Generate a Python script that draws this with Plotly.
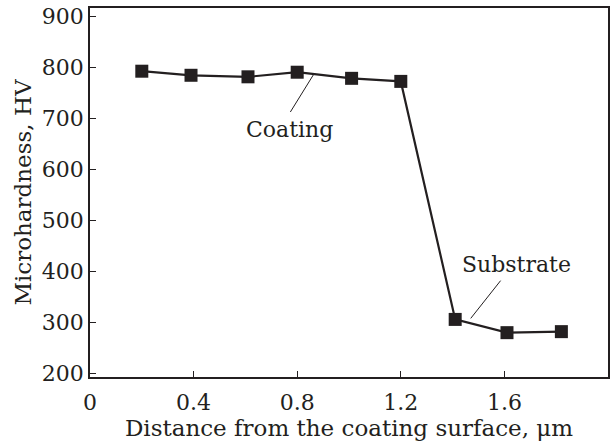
import plotly.graph_objects as go

distance = [0.2, 0.39, 0.61, 0.8, 1.01, 1.2, 1.41, 1.61, 1.82]
hardness = [793, 785, 782, 791, 779, 773, 306, 280, 282]
x_ticks = [0, 0.4, 0.8, 1.2, 1.6, 2.0]
x_tick_text = ["0", "0.4", "0.8", "1.2", "1.6", "2.0"]
y_ticks = [200, 300, 400, 500, 600, 700, 800, 900]

ink = "#231f20"
font_family = "DejaVu Serif"

fig = go.Figure()
fig.add_trace(go.Scatter(
    x=distance, y=hardness, mode="lines+markers",
    line=dict(color=ink, width=2.2),
    marker=dict(symbol="square", size=13, color=ink),
    showlegend=False,
))

# annotations with leader lines
fig.add_annotation(x=0.865, y=788, ax=0.77, ay=710, xref="x", yref="y", axref="x", ayref="y",
                   text="", showarrow=True, arrowhead=0, arrowwidth=1, arrowcolor=ink)
fig.add_annotation(x=0.77, y=708, text="Coating", showarrow=False, yanchor="top",
                   font=dict(family=font_family, size=22, color=ink))
fig.add_annotation(x=1.47, y=308, ax=1.59, ay=385, xref="x", yref="y", axref="x", ayref="y",
                   text="", showarrow=True, arrowhead=0, arrowwidth=1, arrowcolor=ink)
fig.add_annotation(x=1.645, y=386, text="Substrate", showarrow=False, yanchor="bottom",
                   font=dict(family=font_family, size=22, color=ink))

axis_common = dict(
    showline=True, linecolor=ink, linewidth=1.5, mirror=True,
    ticks="inside", tickcolor=ink, tickwidth=1.3, ticklen=6,
    showgrid=False, zeroline=False,
    tickfont=dict(family=font_family, size=22, color=ink),
)

fig.update_xaxes(range=[0, 2.0], tickvals=x_ticks, ticktext=x_tick_text,
                 ticklabelstandoff=5,
                 title=dict(text="Distance from the coating surface, μm",
                            font=dict(family=font_family, size=23, color=ink), standoff=2),
                 **axis_common)
fig.update_yaxes(range=[193, 917], tickvals=y_ticks,
                 title=dict(text="Microhardness, HV",
                            font=dict(family=font_family, size=23, color=ink), standoff=4),
                 **axis_common)

fig.update_layout(
    width=613, height=442,
    margin=dict(l=90, r=3, t=8, b=65),
    paper_bgcolor="white", plot_bgcolor="white",
)

fig.write_html("out.html")
